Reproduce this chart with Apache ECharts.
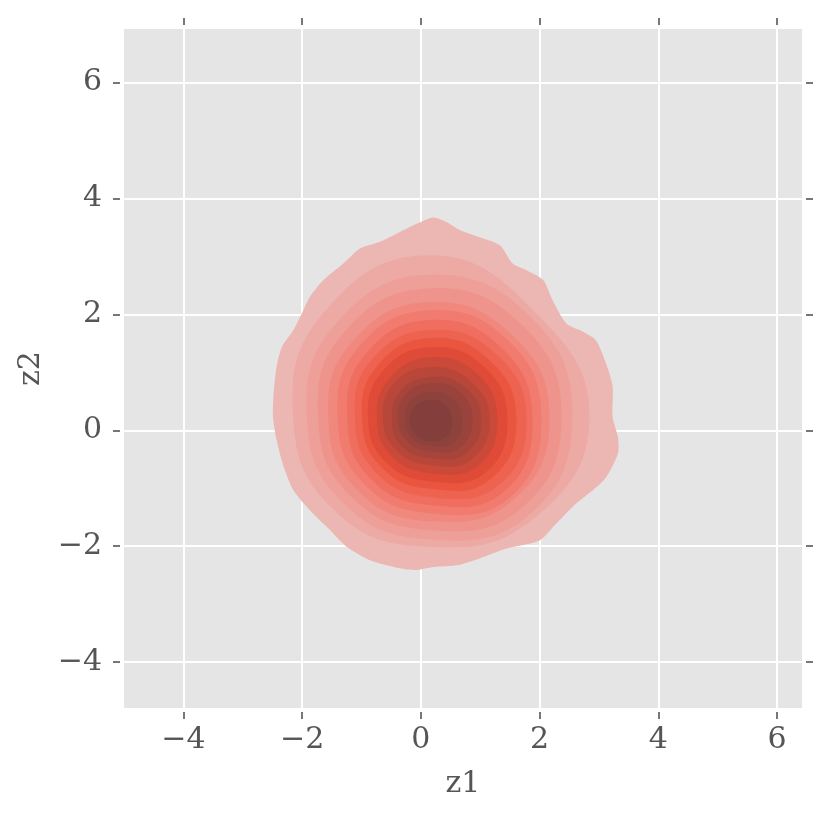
<!DOCTYPE html>
<html>
<head>
<meta charset="utf-8">
<script src="https://cdn.jsdelivr.net/npm/echarts@6/dist/echarts.min.js"></script>
<style>
html, body { margin: 0; padding: 0; background: #fff; }
#chart { width: 831px; height: 816px; }
</style>
</head>
<body>
<div id="chart"></div>
<script>
// tick values
const xTicks = [-4, -2, 0, 2, 4, 6];
const yTicks = [-4, -2, 0, 2, 4, 6];

// outermost density contour (z1, z2)
const outerContour = [
  [0.21, 3.67], [-0.07, 3.56], [-0.35, 3.42], [-0.69, 3.25], [-1.03, 3.13], [-1.31, 2.87],
  [-1.64, 2.59], [-1.87, 2.30], [-1.98, 2.07], [-2.15, 1.72], [-2.34, 1.44], [-2.43, 1.09],
  [-2.48, 0.63], [-2.49, 0.23], [-2.43, -0.17], [-2.31, -0.63], [-2.15, -1.03], [-1.87, -1.38],
  [-1.53, -1.72], [-1.25, -2.01], [-0.86, -2.24], [-0.35, -2.38], [-0.07, -2.41], [0.21, -2.36],
  [0.60, -2.33], [0.99, -2.21], [1.44, -2.04], [2.00, -1.90], [2.28, -1.61], [2.62, -1.26],
  [2.90, -1.03], [3.12, -0.81], [3.32, -0.40], [3.32, -0.12], [3.23, 0.23], [3.23, 0.75],
  [3.12, 1.15], [2.95, 1.55], [2.73, 1.70], [2.45, 1.84], [2.22, 2.24], [2.06, 2.59],
  [1.78, 2.76], [1.55, 2.87], [1.33, 3.19], [0.99, 3.33], [0.66, 3.45], [0.43, 3.59]
];

// inner contours: peak position and reach of each level in 8 directions (outer -> inner)
const peak = [0.15, 0.21];
const eastR      = [2.69, 2.40, 2.22, 2.02, 1.88, 1.73, 1.63, 1.46, 1.31, 1.14, 1.01, 0.87, 0.72, 0.55, 0.37];
const northEastR = [1.80, 1.72, 1.58, 1.41, 1.33, 1.21, 1.11, 1.00, 0.90, 0.78, 0.66, 0.56, 0.48, 0.36, 0.24];
const northR     = [2.81, 2.47, 2.24, 2.00, 1.86, 1.69, 1.52, 1.38, 1.22, 1.05, 0.88, 0.71, 0.60, 0.45, 0.31];
const northWestR = [1.80, 1.60, 1.46, 1.31, 1.21, 1.09, 0.99, 0.89, 0.80, 0.68, 0.60, 0.48, 0.41, 0.31, 0.22];
const westR      = [2.30, 2.07, 1.88, 1.71, 1.55, 1.39, 1.26, 1.14, 1.04, 0.89, 0.79, 0.64, 0.54, 0.42, 0.34];
const southWestR = [1.60, 1.46, 1.34, 1.23, 1.12, 1.02, 0.92, 0.83, 0.75, 0.65, 0.56, 0.48, 0.39, 0.32, 0.26];
const southR     = [2.22, 2.09, 1.93, 1.78, 1.64, 1.50, 1.36, 1.22, 1.09, 0.95, 0.81, 0.69, 0.57, 0.48, 0.40];
const southEastR = [1.74, 1.67, 1.55, 1.41, 1.36, 1.26, 1.16, 1.04, 0.94, 0.82, 0.71, 0.61, 0.51, 0.41, 0.30];

// fill colours, light -> dark
const levelColors = [
  '#ecb6b2', '#eda9a4', '#ee9f98', '#ef948c', '#f0887e', '#f17b6e', '#f06e5f', '#ee6250',
  '#ea5540', '#e04b37', '#cb4938', '#b8473a', '#a7453b', '#99433c', '#8e423c', '#843f3c'
];

const FONT = 'DejaVu Serif';
const TXT = '#555555';

function levelPoints(k) {
  if (k === 0) return outerContour;
  const i = k - 1;
  const cx = peak[0], cy = peak[1];
  return [
    [cx + eastR[i], cy],
    [cx + northEastR[i], cy + northEastR[i]],
    [cx, cy + northR[i]],
    [cx - northWestR[i], cy + northWestR[i]],
    [cx - westR[i], cy],
    [cx - southWestR[i], cy - southWestR[i]],
    [cx, cy - southR[i]],
    [cx + southEastR[i], cy - southEastR[i]]
  ];
}

const minus = v => (v < 0 ? '\u2212' + (-v) : String(v));

const chart = echarts.init(document.getElementById('chart'));

const tickStyle = { show: true, inside: false, length: 7, lineStyle: { color: '#555555', width: 1.6 } };
const hiddenLine = { show: false, onZero: false };

const option = {
  animation: false,
  grid: {
    left: 124, right: 29, top: 29, bottom: 108,
    show: true, backgroundColor: '#e5e5e5', borderWidth: 0
  },
  xAxis: [
    {
      type: 'value', min: -5, max: 6.42, position: 'bottom', offset: 4,
      axisLine: hiddenLine,
      axisTick: Object.assign({ customValues: xTicks }, tickStyle),
      axisLabel: { customValues: xTicks, formatter: minus, fontFamily: FONT, fontSize: 30, color: TXT, margin: 13 },
      splitLine: { show: true, lineStyle: { color: '#ffffff', width: 2 } },
      name: 'z1', nameLocation: 'middle', nameGap: 57,
      nameTextStyle: { fontFamily: FONT, fontSize: 30, color: TXT }
    },
    {
      type: 'value', min: -5, max: 6.42, position: 'top', offset: 4,
      axisLine: hiddenLine,
      axisTick: Object.assign({ customValues: xTicks }, tickStyle),
      axisLabel: { show: false },
      splitLine: { show: false }
    }
  ],
  yAxis: [
    {
      type: 'value', min: -4.79, max: 6.92, position: 'left', offset: 4,
      axisLine: hiddenLine,
      axisTick: Object.assign({ customValues: yTicks }, tickStyle),
      axisLabel: { customValues: yTicks, formatter: minus, fontFamily: FONT, fontSize: 30, color: TXT, margin: 18 },
      splitLine: { show: true, lineStyle: { color: '#ffffff', width: 2 } },
      name: 'z2', nameLocation: 'middle', nameGap: 74,
      nameTextStyle: { fontFamily: FONT, fontSize: 30, color: TXT }
    },
    {
      type: 'value', min: -4.79, max: 6.92, position: 'right', offset: 4,
      axisLine: hiddenLine,
      axisTick: Object.assign({ customValues: yTicks }, tickStyle),
      axisLabel: { show: false },
      splitLine: { show: false }
    }
  ],
  series: [
    {
      type: 'custom',
      xAxisIndex: 0,
      yAxisIndex: 0,
      silent: true,
      data: levelColors.map((c, k) => [k]),
      encode: { x: -1, y: -1 },
      renderItem: function (params, api) {
        const k = params.dataIndex;
        const pts = levelPoints(k).map(p => api.coord(p));
        return {
          type: 'polygon',
          shape: { points: pts, smooth: k === 0 ? 0.25 : 0.45 },
          style: { fill: levelColors[k], stroke: null }
        };
      }
    }
  ]
};

chart.setOption(option);
</script>
</body>
</html>
